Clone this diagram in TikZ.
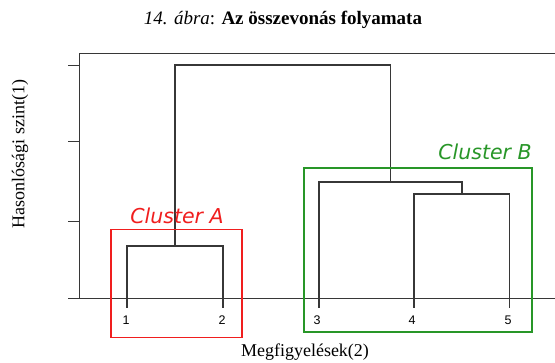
\documentclass[tikz,border=0pt]{standalone}
\usepackage{fontspec}
\setmainfont{Liberation Serif}
\newfontfamily\arialf{Liberation Sans}
\newfontfamily\verdf{DejaVu Sans}
\definecolor{cred}{RGB}{240,30,30}
\definecolor{cgreen}{RGB}{40,150,40}
\definecolor{lgray}{RGB}{55,55,55}
\begin{document}
\begin{tikzpicture}[x=1pt,y=-1pt,
  dendro/.style={draw=lgray, line width=1.1pt},
  axisline/.style={draw=lgray, line width=1pt},
  leaflab/.style={font=\arialf\fontsize{12.5}{14}\selectfont, inner sep=0pt},
  clab/.style={font=\verdf\itshape\fontsize{20.5}{23}\selectfont, inner sep=0pt},
  txt/.style={font=\fontsize{18}{20}\selectfont, inner sep=0pt},
  cbox/.style={line width=1.1pt}]
\useasboundingbox (0,0) rectangle (555,362);
% title and axis labels
\node[txt, font=\fontsize{19}{21}\selectfont] (title) at (283,20) {\textit{14. ábra}: \textbf{Az összevonás folyamata}};
\node[txt, rotate=90] (ylab) at (20,154) {Hasonlósági szint(1)};
\node[txt] (xlab) at (305,352) {Megfigyelések(2)};
% axes
\coordinate (tl) at (79,53);
\coordinate (tr) at (555,53);
\coordinate (bl) at (79,298.5);
\coordinate (br) at (555,298.5);
\draw[axisline] (tr) -- (tl) -- (bl);
\draw[axisline] (68,298.5) -- (br);
\foreach \yy in {65,141.5,221}{\draw[axisline] (68,\yy) -- (79,\yy);}
% leaves and merges
\coordinate (l1) at (127,307.5);
\coordinate (l2) at (223,307.5);
\coordinate (l3) at (319,307.5);
\coordinate (l4) at (414,307.5);
\coordinate (l5) at (509.5,307.5);
\coordinate (mA) at (175,246);
\coordinate (m45) at (462,194);
\coordinate (mB) at (390.5,182);
\coordinate (root) at (282,65);
\draw[dendro] (l1) |- (mA) -| (l2);
\draw[dendro] (l4) |- (m45) -| (l5);
\draw[dendro] (l3) |- (mB) -| (m45);
\draw[dendro] (mA) |- (root) -| (mB);
% leaf labels
\node[leaflab] (n1) at (126,320) {1};
\node[leaflab] (n2) at (222,320) {2};
\node[leaflab] (n3) at (317,320) {3};
\node[leaflab] (n4) at (412,320) {4};
\node[leaflab] (n5) at (508,320) {5};
% cluster boxes
\draw[cbox, draw=cred] (111,229.5) rectangle (242,337.5);
\draw[cbox, draw=cgreen] (304,168) rectangle (532,332);
\node[clab, text=cred] (ca) at (177,215.5) {Cluster A};
\node[clab, text=cgreen] (cb) at (485,151.5) {Cluster B};
\end{tikzpicture}
\end{document}
